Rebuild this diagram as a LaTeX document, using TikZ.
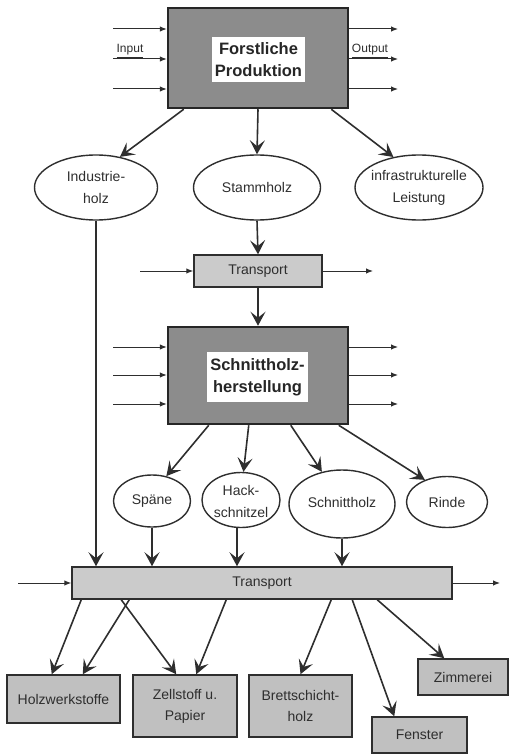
\documentclass[tikz,border=0pt]{standalone}
\usepackage{fontspec}
\setmainfont{Liberation Sans}
\usetikzlibrary{arrows.meta,shapes.geometric}
\definecolor{darkbox}{HTML}{8C8C8C}
\definecolor{lightbox}{HTML}{CBCBCB}
\definecolor{outbox}{HTML}{C0C0C0}
\definecolor{ink}{HTML}{2E2E2E}
\begin{document}
\begin{tikzpicture}[x=1pt,y=-1pt,
 arr/.style={draw=ink, line width=1.6pt, -{Stealth[length=14pt,width=15pt,inset=6pt]}},
 sarr/.style={draw=ink, line width=1pt, -{Latex[length=7pt,width=5.5pt]}},
 bigbox/.style={draw=black!85, line width=2.5pt, fill=darkbox, minimum width=180pt, inner sep=0},
 blabel/.style={fill=white, inner sep=0, font=\fontsize{16.5}{22}\selectfont\bfseries, align=center, text=black!85},
 tbox/.style={draw=ink, line width=1.5pt, fill=lightbox, inner sep=0, minimum height=32pt, font=\fontsize{14}{16}\selectfont, text=ink},
 obox/.style={draw=ink, line width=1.5pt, fill=outbox, inner sep=0, font=\fontsize{14}{21}\selectfont, align=center, text=ink},
 ell/.style={draw=ink, line width=1.4pt, ellipse, inner sep=0},
 etext/.style={font=\fontsize{14}{22}\selectfont, align=center, text=ink, inner sep=0},
 iolabel/.style={font=\fontsize{12}{13}\selectfont, text=ink, inner sep=0},
]
\useasboundingbox (0,0) rectangle (510,754);

% ---------- Forstliche Produktion ----------
\node[bigbox, minimum height=100pt] (fp) at (258,58) {};
\node[blabel, minimum width=93pt, minimum height=45pt] (fpT) at (258.5,59.5) {Forstliche\\Produktion};
\foreach \yy [count=\i] in {29,59,89}{
  \coordinate (fpin\i) at (113,\yy);
  \coordinate (fpout\i) at (398,\yy);
  \draw[sarr] (fpin\i) -- (fpin\i -| fp.west);
  \draw[sarr] (fpout\i -| fp.east) -- (fpout\i);
}
\node[iolabel] (inL) at (130,51) {\underline{Input}};
\node[iolabel] (outL) at (370,51) {\underline{Output}};

% ---------- first ellipses ----------
\node[ell, minimum width=123pt, minimum height=65pt] (ind) at (96,187.5) {};
\node[etext] (indT) at (96,187.5) {Industrie-\\holz};
\node[ell, minimum width=127pt, minimum height=65pt] (stamm) at (257,187.5) {};
\node[etext] (stammT) at (257,187.5) {Stammholz};
\node[ell, minimum width=128pt, minimum height=65pt] (infra) at (419,187.5) {};
\node[etext] (infraT) at (419,188) {infrastrukturelle\\Leistung};

\draw[arr] ([xshift=17pt]fp.south west) -- (ind.52);
\draw[arr] (fp.south) -- (stamm.north);
\draw[arr] ([xshift=-18pt]fp.south east) -- (infra.130);

% ---------- Transport 1 ----------
\node[tbox, minimum width=128pt] (t1) at (258,271) {Transport};
\coordinate (t1in) at (140,271);
\coordinate (t1out) at (373,271);
\draw[sarr] (t1in) -- (t1.west);
\draw[sarr] (t1.east) -- (t1out);
\draw[arr] (stamm.south) -- (t1.north);

% ---------- Schnittholzherstellung ----------
\node[bigbox, minimum height=97pt] (sh) at (258,375.5) {};
\node[blabel, minimum width=101pt, minimum height=50pt] (shT) at (257.5,377) {Schnittholz-\\herstellung};
\foreach \yy [count=\i] in {347,375,404}{
  \coordinate (shin\i) at (113,\yy);
  \coordinate (shout\i) at (398,\yy);
  \draw[sarr] (shin\i) -- (shin\i -| sh.west);
  \draw[sarr] (shout\i -| sh.east) -- (shout\i);
}
\draw[arr] (t1.south) -- (sh.north);

% ---------- second ellipses ----------
\node[ell, minimum width=77pt, minimum height=52pt] (spane) at (152,501) {};
\node[etext] (spaneT) at (152,501) {Späne};
\node[ell, minimum width=78pt, minimum height=55pt] (hack) at (241,500) {};
\node[etext] (hackT) at (241,501) {Hack-\\schnitzel};
\node[ell, minimum width=106pt, minimum height=68pt] (schnitt) at (342,504) {};
\node[etext] (schnittT) at (342,502) {Schnittholz};
\node[ell, minimum width=81pt, minimum height=51pt] (rinde) at (447,502) {};
\node[etext] (rindeT) at (447,502) {Rinde};

\draw[arr] ([xshift=42pt]sh.south west) -- (spane.60);
\draw[arr] ([xshift=82pt]sh.south west) -- (hack.85);
\draw[arr] ([xshift=124pt]sh.south west) -- (schnitt.122);
\draw[arr] ([xshift=172pt]sh.south west) -- (rinde.135);

% ---------- Transport 2 ----------
\node[tbox, minimum width=380pt] (t2) at (262,583) {Transport};
\coordinate (t2in) at (18,583);
\coordinate (t2out) at (500,583);
\draw[sarr] (t2in) -- (t2.west);
\draw[sarr] (t2.east) -- (t2out);

\draw[arr] (ind.south) -- (ind.south |- t2.north);
\draw[arr] (spane.south) -- (spane.south |- t2.north);
\draw[arr] ([xshift=-4pt]hack.south) -- ([xshift=-4pt]hack.south |- t2.north);
\draw[arr] (schnitt.south) -- (schnitt.south |- t2.north);

% ---------- output boxes ----------
\node[obox, minimum width=113pt, minimum height=48pt] (holz) at (63.5,699) {Holzwerkstoffe};
\node[obox, minimum width=104pt, minimum height=62pt] (zell) at (185,706) {Zellstoff u.\\Papier};
\node[obox, minimum width=103pt, minimum height=62pt] (brett) at (300.5,706) {Brettschicht-\\holz};
\node[obox, minimum width=95pt, minimum height=36pt] (fenster) at (419.5,735) {Fenster};
\node[obox, minimum width=90pt, minimum height=36pt] (zimm) at (463,677) {Zimmerei};

\draw[arr] ([xshift=10pt]t2.south west) -- ([xshift=45.5pt]holz.north west);
\draw[arr] ([xshift=58pt]t2.south west) -- ([xshift=76.5pt]holz.north west);
\draw[arr] ([xshift=50pt]t2.south west) -- ([xshift=44pt]zell.north west);
\draw[arr] ([xshift=155pt]t2.south west) -- ([xshift=64pt]zell.north west);
\draw[arr] ([xshift=260pt]t2.south west) -- (brett.north);
\draw[arr] ([xshift=281pt]t2.south west) -- ([xshift=23pt]fenster.north west);
\draw[arr] ([xshift=306pt]t2.south west) -- ([xshift=27pt]zimm.north west);
\end{tikzpicture}
\end{document}
